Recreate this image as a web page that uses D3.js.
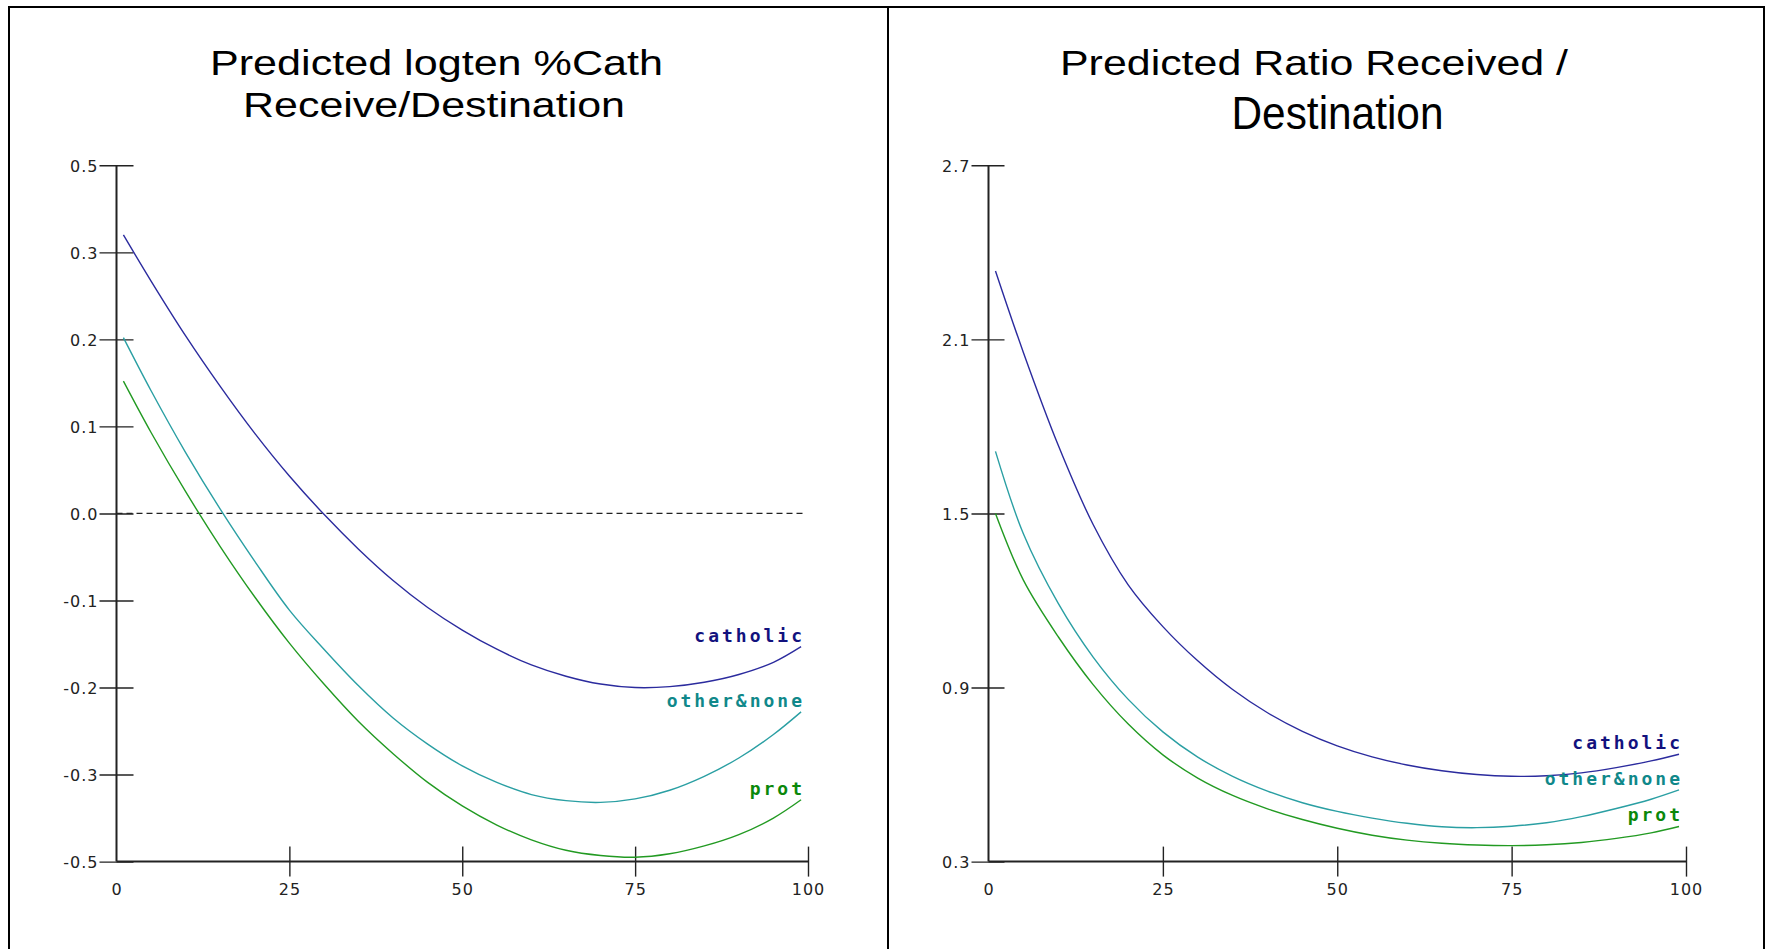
<!DOCTYPE html>
<html>
<head>
<meta charset="utf-8">
<script src="https://cdn.jsdelivr.net/npm/d3@7"></script>
<style>
  html, body { margin: 0; padding: 0; background: #fff; }
  svg { display: block; }
</style>
</head>
<body>
<svg id="viz"></svg>
<script>
// x positions shared by every curve
const xValues = [1, 5, 10, 15, 20, 25, 30, 35, 40, 45, 50, 55, 60, 65, 70, 75, 80, 85, 90, 95, 99];

// left panel: predicted logten %Cath receive/destination
const leftCatholic = [0.320, 0.267, 0.204, 0.146, 0.092, 0.043, -0.001, -0.041, -0.077, -0.108, -0.134,
    -0.156, -0.174, -0.187, -0.196, -0.200, -0.199, -0.194, -0.185, -0.171, -0.153];
const leftOther = [0.202, 0.141, 0.070, 0.005, -0.055, -0.111, -0.156, -0.198, -0.235, -0.265, -0.290,
    -0.309, -0.323, -0.330, -0.332, -0.328, -0.318, -0.302, -0.281, -0.254, -0.228];
const leftProt = [0.152, 0.093, 0.025, -0.038, -0.096, -0.149, -0.196, -0.239, -0.276, -0.309, -0.336,
    -0.358, -0.375, -0.387, -0.393, -0.395, -0.391, -0.382, -0.369, -0.350, -0.329];

// right panel: predicted ratio received / destination
const rightCatholic = [2.336, 2.055, 1.735, 1.462, 1.255, 1.110, 0.992, 0.893, 0.813, 0.749, 0.699,
    0.661, 0.633, 0.613, 0.600, 0.594, 0.596, 0.606, 0.624, 0.647, 0.670];
const rightOther = [1.714, 1.430, 1.190, 1.005, 0.860, 0.747, 0.660, 0.594, 0.543, 0.503, 0.473,
    0.450, 0.432, 0.420, 0.417, 0.422, 0.434, 0.455, 0.483, 0.515, 0.547];
const rightProt = [1.500, 1.270, 1.075, 0.910, 0.775, 0.668, 0.588, 0.528, 0.482, 0.445, 0.415,
    0.391, 0.374, 0.363, 0.357, 0.355, 0.358, 0.366, 0.380, 0.399, 0.421];

const seriesNames = ["catholic", "other&none", "prot"];
const lineColors = ["#2b2b9e", "#2a9fa3", "#229a22"];
const labelColors = ["#12127e", "#10888a", "#0b880b"];

const xTicks = [0, 25, 50, 75, 100];
const leftYTicks = [-0.4, -0.3, -0.2, -0.1, 0, 0.1, 0.2, 0.3, 0.4];
const leftYLabels = ["-0.5", "-0.3", "-0.2", "-0.1", "0.0", "0.1", "0.2", "0.3", "0.5"];
const rightYTicks = [0.3, 0.9, 1.5, 2.1, 2.7];
const rightYLabels = ["0.3", "0.9", "1.5", "2.1", "2.7"];

const leftTitle = ["Predicted logten %Cath", "Receive/Destination"];
const rightTitle = ["Predicted Ratio Received /", "Destination"];

const width = 1766, height = 949;
const plotTop = 165.3, plotBottom = 861.6;

const svg = d3.select("#viz")
    .attr("width", width)
    .attr("height", height)
    .attr("viewBox", [0, 0, width, height]);

// frames round the two panels
svg.append("rect").attr("x", 9).attr("y", 7).attr("width", 879).attr("height", 960)
    .attr("fill", "none").attr("stroke", "#000").attr("stroke-width", 2);
svg.append("rect").attr("x", 888).attr("y", 7).attr("width", 876).attr("height", 960)
    .attr("fill", "none").attr("stroke", "#000").attr("stroke-width", 2);

function drawPanel(p) {
    const g = svg.append("g");

    const x = d3.scaleLinear().domain([0, 100]).range([p.x0, p.x1]);
    const y = d3.scaleLinear().domain(p.yDomain).range([plotBottom, plotTop]);

    // title
    g.append("text")
        .attr("x", p.title1.cx).attr("y", 75)
        .attr("text-anchor", "middle")
        .attr("font-family", "'Liberation Sans', Arial, sans-serif")
        .attr("font-size", 35)
        .attr("textLength", p.title1.w).attr("lengthAdjust", "spacingAndGlyphs")
        .text(p.titles[0]);
    g.append("text")
        .attr("x", p.title2.cx).attr("y", p.title2.y)
        .attr("text-anchor", "middle")
        .attr("font-family", "'Liberation Sans', Arial, sans-serif")
        .attr("font-size", p.title2.size)
        .attr("textLength", p.title2.w).attr("lengthAdjust", "spacingAndGlyphs")
        .text(p.titles[1]);

    // y axis, ticks cross the line
    const yAxis = g.append("g")
        .attr("transform", `translate(${p.x0},0)`)
        .call(d3.axisLeft(y).tickValues(p.yTicks).tickSizeOuter(0)
            .tickFormat((d, i) => p.yLabels[i]))
        .call(a => a.select(".domain").remove());
    yAxis.selectAll(".tick line")
        .attr("x1", -17).attr("x2", p.yTickRight)
        .attr("stroke", "#222").attr("stroke-width", 1.4);
    yAxis.selectAll(".tick text")
        .attr("x", -18).attr("dy", "0.36em")
        .attr("font-family", "'DejaVu Sans', sans-serif")
        .attr("font-size", 16).attr("letter-spacing", 1)
        .attr("fill", "#222");

    // x axis
    const xAxis = g.append("g")
        .attr("transform", `translate(0,${plotBottom})`)
        .call(d3.axisBottom(x).tickValues(xTicks).tickSizeOuter(0))
        .call(a => a.select(".domain").remove());
    xAxis.selectAll(".tick line")
        .attr("y1", d => d === 0 ? 0 : -15).attr("y2", d => d === 0 ? 0 : 15)
        .attr("stroke", "#222").attr("stroke-width", 1.4);
    xAxis.selectAll(".tick text")
        .attr("y", 33).attr("dy", 0)
        .attr("font-family", "'DejaVu Sans', sans-serif")
        .attr("font-size", 16).attr("letter-spacing", 1)
        .attr("fill", "#222");

    // axis lines
    g.append("line")
        .attr("x1", p.x0).attr("x2", p.x0)
        .attr("y1", y(p.yTicks[p.yTicks.length - 1])).attr("y2", plotBottom)
        .attr("stroke", "#222").attr("stroke-width", 2);
    g.append("line")
        .attr("x1", p.x0).attr("x2", x(100))
        .attr("y1", plotBottom).attr("y2", plotBottom)
        .attr("stroke", "#222").attr("stroke-width", 2);

    if (p.zeroLine) {
        g.append("line")
            .attr("x1", x(0)).attr("x2", x(99.5))
            .attr("y1", y(0)).attr("y2", y(0))
            .attr("stroke", "#222").attr("stroke-width", 1.2)
            .attr("stroke-dasharray", "6,4");
    }

    const line = d3.line()
        .x((d, i) => x(xValues[i]))
        .y(d => y(d))
        .curve(d3.curveCatmullRom.alpha(0.5));

    p.series.forEach((vals, k) => {
        g.append("path")
            .attr("d", line(vals))
            .attr("fill", "none")
            .attr("stroke", lineColors[k])
            .attr("stroke-width", 1.4);

        g.append("text")
            .attr("x", x(100) - 3)
            .attr("y", y(vals[vals.length - 1]) - 5)
            .attr("text-anchor", "end")
            .attr("font-family", "'DejaVu Sans Mono', monospace")
            .attr("font-weight", "bold")
            .attr("font-size", 18)
            .attr("letter-spacing", 3)
            .attr("fill", labelColors[k])
            .text(seriesNames[k]);
    });
}

drawPanel({
    x0: 116.5, x1: 808,
    yDomain: [-0.4, 0.4],
    yTicks: leftYTicks, yLabels: leftYLabels, yTickRight: 17,
    zeroLine: true,
    titles: leftTitle,
    title1: { cx: 436.5, w: 453 },
    title2: { cx: 434, y: 117, size: 35, w: 382 },
    series: [leftCatholic, leftOther, leftProt]
});

drawPanel({
    x0: 988.5, x1: 1686,
    yDomain: [0.3, 2.7],
    yTicks: rightYTicks, yLabels: rightYLabels, yTickRight: 16,
    zeroLine: false,
    titles: rightTitle,
    title1: { cx: 1314, w: 508 },
    title2: { cx: 1337.5, y: 129, size: 47, w: 212 },
    series: [rightCatholic, rightOther, rightProt]
});
</script>
</body>
</html>
